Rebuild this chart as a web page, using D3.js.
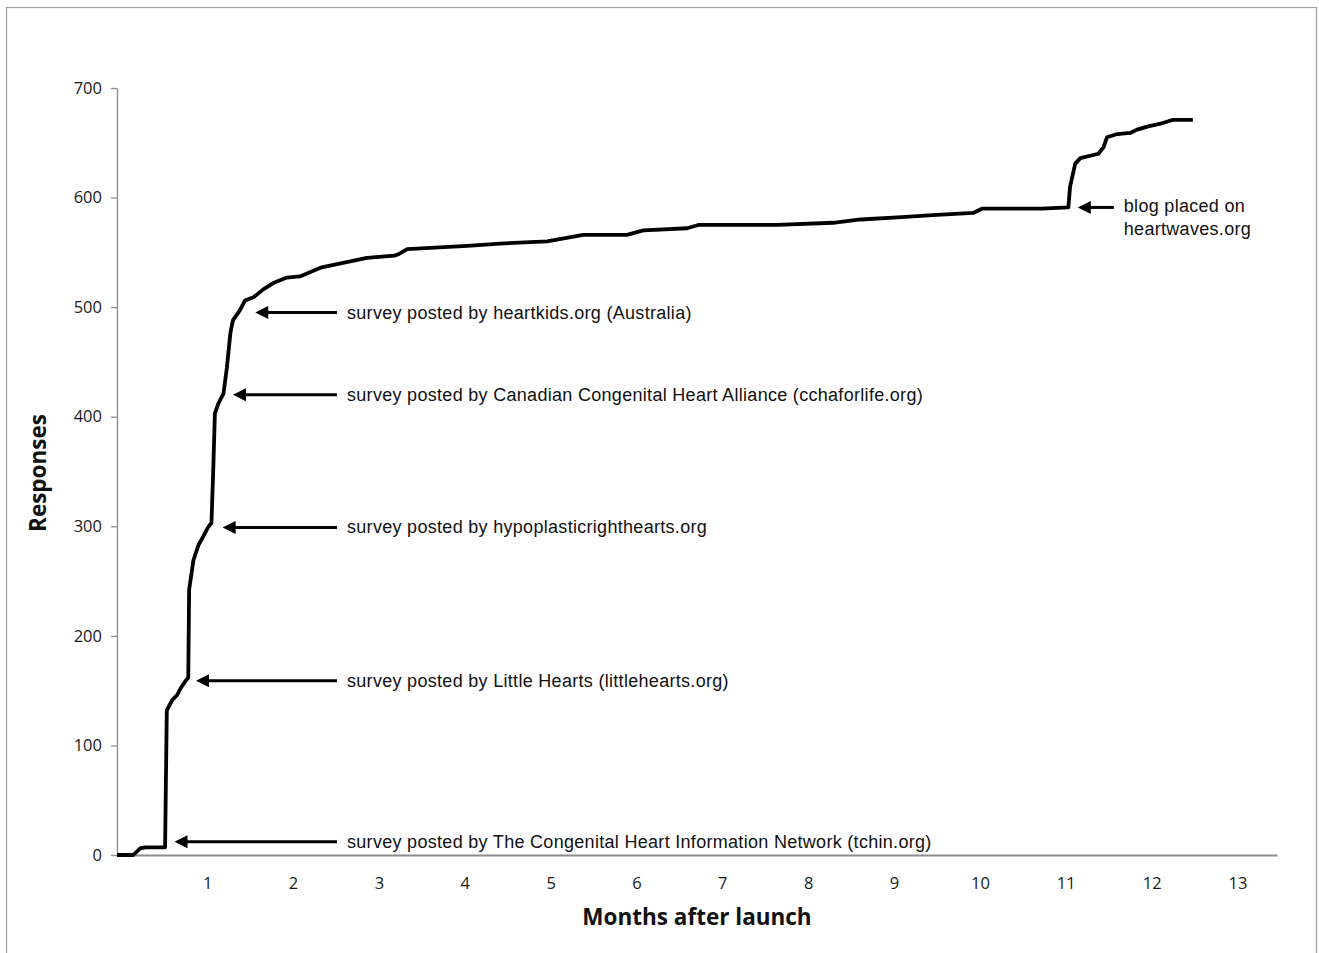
<!DOCTYPE html>
<html><head><meta charset="utf-8">
<script src="https://cdn.jsdelivr.net/npm/d3@7"></script>
<style>body{margin:0;background:#fff}svg{display:block}</style>
</head><body>
<script>
// ---- data ----
const months = [-0.05,0.14,0.22,0.28,0.51,0.53,0.59,0.65,0.69,0.74,0.78,0.79,0.84,0.90,0.95,1.01,1.05,1.07,1.09,1.13,1.19,1.23,1.27,1.30,1.38,1.44,1.54,1.65,1.77,1.93,2.08,2.32,2.86,3.18,3.22,3.33,4.03,4.41,4.96,5.38,5.89,6.08,6.59,6.72,7.64,8.29,8.61,9.04,9.45,9.92,10.03,10.72,11.03,11.05,11.11,11.17,11.38,11.44,11.48,11.60,11.75,11.83,11.96,12.13,12.25,12.48];
const responses = [0,0,6,7,7,132,141,146,152,158,162,242,269,283,290,299,303,349,403,412,421,445,476,488,497,506,509,516,522,527,528,536,545,547,548,553,556,558,560,566,566,570,572,575,575,577,580,582,584,586,590,590,591,610,631,636,640,646,655,658,659,662,665,668,671,671];
const xTicks = [1,2,3,4,5,6,7,8,9,10,11,12,13];
const yTicks = [0,100,200,300,400,500,600,700];
const noteTexts = [
  ["survey posted by The Congenital Heart Information Network (tchin.org)"],
  ["survey posted by Little Hearts (littlehearts.org)"],
  ["survey posted by hypoplasticrighthearts.org"],
  ["survey posted by Canadian Congenital Heart Alliance (cchaforlife.org)"],
  ["survey posted by heartkids.org (Australia)"],
  ["blog placed on","heartwaves.org"]
];
const noteMonths = [0.62,0.87,1.18,1.30,1.56,11.14];
const noteValues = [12,159,299,420,495,591];
const xTitle = "Months after launch";
const yTitle = "Responses";

// ---- drawing ----
const W = 1319, H = 953;
const svg = d3.select("body").append("svg").attr("width", W).attr("height", H);
svg.append("rect").attr("x",6.5).attr("y",7.5).attr("width",1310).attr("height",960)
  .attr("fill","#fff").attr("stroke","#a0a0a0").attr("stroke-width",1.2);

const x = d3.scaleLinear().domain([-0.05, 13.46]).range([117, 1277]);
const y = d3.scaleLinear().domain([0, 700]).range([855, 88]);

const tickFont = "'Open Sans', 'Liberation Sans', sans-serif";

// y axis
const yAxis = svg.append("g").attr("transform","translate(117,0)")
  .call(d3.axisLeft(y).tickValues(yTicks).tickSize(6).tickPadding(9).tickSizeOuter(0));
yAxis.select(".domain").attr("stroke","#8c8c8c").attr("stroke-width",1.3);
yAxis.selectAll(".tick line").attr("stroke","#8c8c8c").attr("stroke-width",1.3);
yAxis.selectAll(".tick text").attr("font-family",tickFont).attr("font-size",16.5).attr("fill","#1a1a1a");

// x axis (no tick marks)
const xAxis = svg.append("g").attr("transform","translate(0,855)")
  .call(d3.axisBottom(x).tickValues(xTicks).tickSize(0).tickPadding(22).tickSizeOuter(0).tickFormat(d3.format("d")));
xAxis.select(".domain").attr("stroke","#8c8c8c").attr("stroke-width",1.8);
xAxis.selectAll(".tick text").attr("font-family",tickFont).attr("font-size",16.5).attr("fill","#1a1a1a");

// titles
svg.append("text").attr("x",697).attr("y",925).attr("text-anchor","middle")
  .attr("font-family",tickFont).attr("font-weight","bold").attr("font-size",22.5).attr("fill","#111").text(xTitle);
svg.append("text").attr("transform","translate(46,473) rotate(-90)").attr("text-anchor","middle")
  .attr("font-family",tickFont).attr("font-weight","bold").attr("font-size",22.5).attr("fill","#111").text(yTitle);

// line
const pts = months.map((m,i)=>[m, responses[i]]);
svg.append("path").datum(pts)
  .attr("d", d3.line().x(d=>x(d[0])).y(d=>y(d[1])).curve(d3.curveLinear))
  .attr("fill","none").attr("stroke","#000").attr("stroke-width",3.8).attr("stroke-linejoin","round");

// annotations
const noteFont = "'Liberation Sans', Arial, sans-serif";
noteTexts.forEach((lines,i)=>{
  const tipX = x(noteMonths[i]), tipY = y(noteValues[i]);
  const isBlog = i === noteTexts.length-1;
  const endX = isBlog ? tipX + 36 : 337;
  const g = svg.append("g");
  g.append("line").attr("x1",tipX+10).attr("y1",tipY).attr("x2",endX).attr("y2",tipY)
    .attr("stroke","#000").attr("stroke-width",3);
  g.append("path").attr("d",`M${tipX},${tipY} L${tipX+13},${tipY-6.5} L${tipX+13},${tipY+6.5} Z`).attr("fill","#000");
  const tx = endX + 10;
  lines.forEach((t,j)=>{
    g.append("text").attr("x",tx).attr("y",tipY + (isBlog ? j*23 - 1 : 0))
      .attr("dominant-baseline","central")
      .attr("font-family",noteFont).attr("font-size",18).attr("letter-spacing",0.3).attr("fill","#111")
      .text(t);
  });
});
</script>
</body></html>
